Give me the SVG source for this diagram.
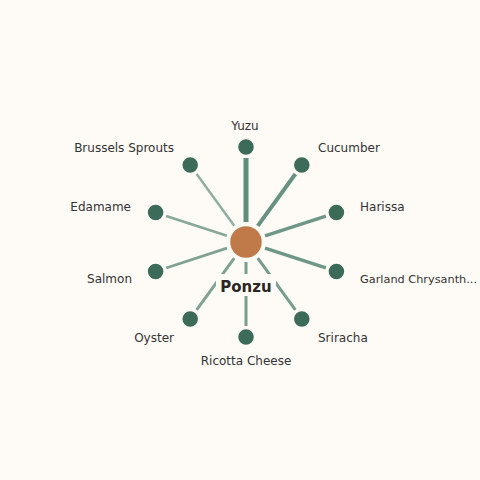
<svg xmlns="http://www.w3.org/2000/svg" width="480" height="480" viewBox="0 0 480 480">
<style>
.lbl{font-family:"DejaVu Sans",sans-serif;font-size:12px;fill:#333333}
.center-lbl{font-family:"DejaVu Sans",sans-serif;font-size:15px;font-weight:bold;fill:#2a2622}
.leaf{fill:#3d6b5a;stroke:#fdf9f5;stroke-width:1.5}
.hub{fill:#c07a4a;stroke:#fdf9f5;stroke-width:1.5}
.edge{stroke:#5f8c7b;stroke-linecap:butt;fill:none}
</style>
<rect width="480" height="480" fill="#fefaf6"/>
<g id="connectors">
<line class="edge" x1="246" y1="222" x2="246" y2="158" stroke-width="5" stroke="#4f7c6b"/>
<line class="edge" x1="257.76" y1="225.82" x2="295.37" y2="174.04" stroke-width="4" stroke-opacity="0.95"/>
<line class="edge" x1="265.02" y1="235.82" x2="325.89" y2="216.04" stroke-width="3.5" stroke-opacity="0.9"/>
<line class="edge" x1="265.02" y1="248.18" x2="325.89" y2="267.96" stroke-width="3.5" stroke-opacity="0.9"/>
<line class="edge" x1="257.76" y1="258.18" x2="295.37" y2="309.96" stroke-width="3" stroke-opacity="0.85"/>
<line class="edge" x1="246" y1="262" x2="246" y2="326" stroke-width="3" stroke-opacity="0.85"/>
<line class="edge" x1="234.24" y1="258.18" x2="196.63" y2="309.96" stroke-width="3" stroke-opacity="0.8"/>
<line class="edge" x1="226.98" y1="248.18" x2="166.11" y2="267.96" stroke-width="2.8" stroke-opacity="0.8"/>
<line class="edge" x1="226.98" y1="235.82" x2="166.11" y2="216.04" stroke-width="2.6" stroke-opacity="0.75"/>
<line class="edge" x1="234.24" y1="225.82" x2="196.63" y2="174.04" stroke-width="2.4" stroke-opacity="0.7"/>
</g>
<g id="ponzu">
<circle class="hub" cx="246" cy="242" r="16.5"/>
<rect x="216" y="274" width="60" height="22" fill="#fefaf6"/>
<text class="center-lbl" x="246" y="292" text-anchor="middle">Ponzu</text>
</g>
<g id="yuzu"><circle class="leaf" cx="246" cy="147" r="8.5"/><text class="lbl" x="245" y="129.5" text-anchor="middle">Yuzu</text></g>
<g id="cucumber"><circle class="leaf" cx="301.8" cy="165.1" r="8.5"/><text class="lbl" x="318" y="152">Cucumber</text></g>
<g id="harissa"><circle class="leaf" cx="336.4" cy="212.6" r="8.5"/><text class="lbl" x="360" y="211">Harissa</text></g>
<g id="garland"><circle class="leaf" cx="336.4" cy="271.4" r="8.5"/><text class="lbl" x="360" y="283" style="font-size:11.3px">Garland Chrysanth...</text></g>
<g id="sriracha"><circle class="leaf" cx="301.8" cy="318.9" r="8.5"/><text class="lbl" x="318" y="342">Sriracha</text></g>
<g id="ricotta"><circle class="leaf" cx="246" cy="337" r="8.5"/><text class="lbl" x="246" y="365" text-anchor="middle">Ricotta Cheese</text></g>
<g id="oyster"><circle class="leaf" cx="190.2" cy="318.9" r="8.5"/><text class="lbl" x="174" y="342" text-anchor="end">Oyster</text></g>
<g id="salmon"><circle class="leaf" cx="155.6" cy="271.4" r="8.5"/><text class="lbl" x="132" y="283" text-anchor="end">Salmon</text></g>
<g id="edamame"><circle class="leaf" cx="155.6" cy="212.6" r="8.5"/><text class="lbl" x="131" y="211" text-anchor="end">Edamame</text></g>
<g id="brussels"><circle class="leaf" cx="190.2" cy="165.1" r="8.5"/><text class="lbl" x="174" y="152" text-anchor="end">Brussels Sprouts</text></g>
</svg>
